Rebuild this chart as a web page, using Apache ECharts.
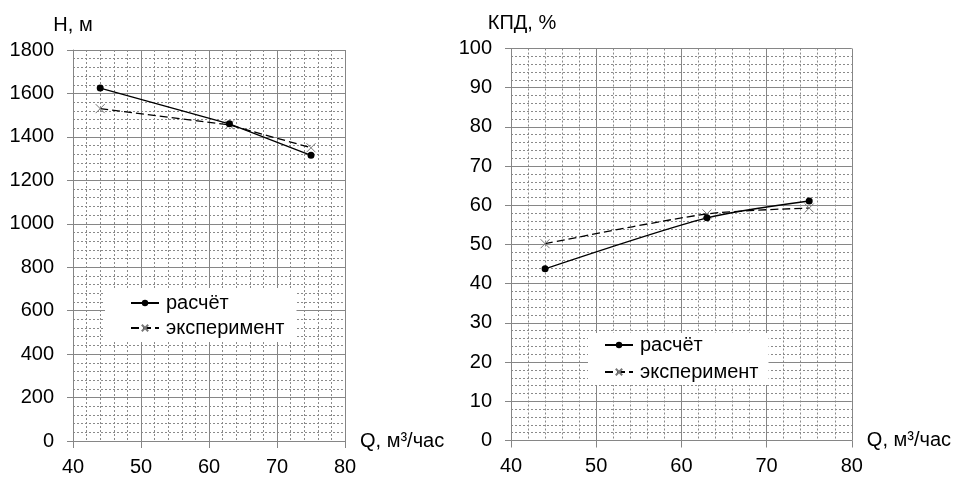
<!DOCTYPE html>
<html>
<head>
<meta charset="utf-8">
<title>Напор и КПД</title>
<script src="https://cdn.jsdelivr.net/npm/echarts@6/dist/echarts.min.js"></script>
<style>
  html, body { margin: 0; padding: 0; background: #fff; }
  #main { width: 954px; height: 482px; }
</style>
</head>
<body>
<div id="main"></div>
<script type="text/javascript">
// данные
var qValues = [44, 63, 75];
var headCalc = [1625, 1460, 1315];
var headExp = [1530, 1455, 1350];
var effCalc = [43.8, 56.8, 61.1];
var effExp = [50.2, 57.8, 59.3];
var seriesNames = ['расчёт', 'эксперимент'];

var font = '"Liberation Sans", Arial, sans-serif';
var crossPath = 'path://M0,0L10,10M10,0L0,10';

function pairs(xs, ys) {
  return xs.map(function (x, i) { return [x, ys[i]]; });
}

function xAxisCfg(gridIndex) {
  return {
    gridIndex: gridIndex,
    type: 'value',
    min: 40, max: 80, interval: 10,
    name: 'Q, м³/час',
    nameLocation: 'end',
    nameGap: 15,
    nameTextStyle: { fontFamily: font, fontSize: 20, color: '#000', verticalAlign: 'middle' },
    axisLine: { show: true, lineStyle: { color: '#868686', width: 1 } },
    axisTick: { show: true, length: 7, lineStyle: { color: '#868686' } },
    axisLabel: { margin: 16, fontFamily: font, fontSize: 20, color: '#000' },
    splitLine: { show: true, lineStyle: { color: '#868686', width: 1 } },
    minorTick: { show: false, splitNumber: 5 },
    minorSplitLine: { show: true, lineStyle: { color: '#8a8a8a', width: 1, type: [2, 2] } }
  };
}

function yAxisCfg(gridIndex, name, max, interval) {
  return {
    gridIndex: gridIndex,
    type: 'value',
    min: 0, max: max, interval: interval,
    name: name,
    nameLocation: 'end',
    nameGap: 15,
    nameTextStyle: { fontFamily: font, fontSize: 20, color: '#000' },
    axisLine: { show: true, lineStyle: { color: '#868686', width: 1 } },
    axisTick: { show: true, length: 6, lineStyle: { color: '#868686' } },
    axisLabel: { margin: 19, fontFamily: font, fontSize: 20, color: '#000',
      formatter: function (v) { return String(v); } },
    splitLine: { show: true, lineStyle: { color: '#868686', width: 1 } },
    minorTick: { show: false, splitNumber: 5 },
    minorSplitLine: { show: true, lineStyle: { color: '#8a8a8a', width: 1, type: [2, 2] } }
  };
}

function calcSeries(idx, data, smooth) {
  return {
    name: seriesNames[0],
    type: 'line',
    xAxisIndex: idx, yAxisIndex: idx,
    data: data,
    smooth: smooth,
    symbol: 'circle',
    symbolSize: 7,
    itemStyle: { color: '#000' },
    lineStyle: { color: '#000', width: 1.3, type: 'solid' },
    z: 5
  };
}

function expSeries(idx, data, smooth) {
  return {
    name: seriesNames[1],
    type: 'line',
    xAxisIndex: idx, yAxisIndex: idx,
    data: data,
    smooth: smooth,
    symbol: crossPath,
    symbolSize: 9,
    itemStyle: { color: 'transparent', borderColor: '#777', borderWidth: 1 },
    lineStyle: { color: '#000', width: 1.3, type: [8, 4] },
    z: 4
  };
}

function legendCfg(left, top, padding, gap) {
  return {
    data: seriesNames,
    orient: 'vertical',
    left: left, top: top,
    padding: padding,
    itemWidth: 28, itemHeight: 8,
    itemGap: gap,
    backgroundColor: '#fff',
    selectedMode: false,
    textStyle: { fontFamily: font, fontSize: 20, lineHeight: 20, color: '#000', padding: [0, 0, 0, 2] }
  };
}

var myChart = echarts.init(document.getElementById('main'));

var option = {
  animation: false,
  backgroundColor: '#fff',
  grid: [
    { left: 73, right: 609, top: 50, bottom: 41 },
    { left: 511, right: 100, top: 48.5, bottom: 41.5 }
  ],
  xAxis: [xAxisCfg(0), xAxisCfg(1)],
  yAxis: [
    yAxisCfg(0, 'Н, м', 1800, 200),
    yAxisCfg(1, 'КПД, %', 100, 10)
  ],
  legend: [
    legendCfg(105, 288, [5, 12, 4, 25], 5),
    legendCfg(588, 333, [2, 10, 3, 16], 7)
  ],
  series: [
    calcSeries(0, pairs(qValues, headCalc), false),
    expSeries(0, pairs(qValues, headExp), false),
    calcSeries(1, pairs(qValues, effCalc), 0.25),
    expSeries(1, pairs(qValues, effExp), 0.25)
  ]
};
option.yAxis[1].nameTextStyle.padding = [0, 0, 0, 22];

myChart.setOption(option);
</script>
</body>
</html>
